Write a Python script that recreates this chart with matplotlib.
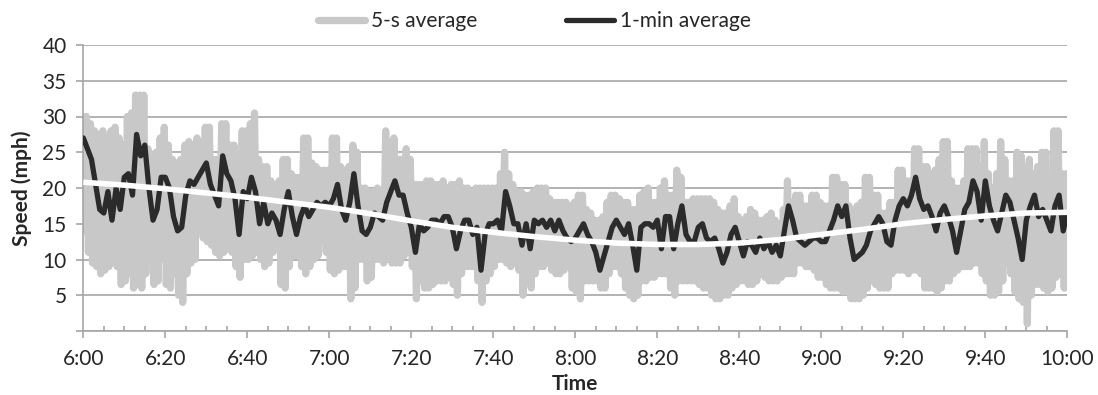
import matplotlib.pyplot as plt
import numpy as np

plt.rcParams["font.family"] = ["Lato", "DejaVu Sans"]

# x axis labels (every 20 min from 6:00) and y tick values
time_labels = ["6:00", "6:20", "6:40", "7:00", "7:20", "7:40", "8:00",
               "8:20", "8:40", "9:00", "9:20", "9:40", "10:00"]
speed_ticks = [0, 5, 10, 15, 20, 25, 30, 35, 40]

# 1-min average speed, one value per minute 6:00..10:00
minute_avg = [
    27.0, 25.5, 24.0, 20.5, 17.0, 16.5, 19.5, 15.5, 20.0, 17.0, 21.5, 22.0, 19.0, 27.5,
    24.5, 26.0, 20.0, 15.5, 17.0, 21.5, 21.5, 20.0, 16.0, 14.0, 14.5, 19.0, 21.0, 20.5,
    21.5, 22.5, 23.5, 20.5, 19.0, 17.5, 24.5, 22.0, 21.0, 18.5, 13.5, 19.5, 18.5, 21.5,
    19.5, 15.0, 18.0, 15.0, 16.5, 15.5, 13.5, 17.0, 19.5, 16.0, 13.5, 16.0, 17.5, 16.0,
    17.0, 18.0,
    17.5, 18.0, 17.5, 18.5, 20.5, 17.0, 15.5, 18.0, 22.0, 17.5, 14.0, 13.5, 14.5, 16.5,
    16.0, 15.5, 18.0, 19.5, 21.0, 19.0, 19.0, 16.5, 14.5, 11.0, 15.0, 14.0, 14.5, 15.5,
    15.5, 15.0, 16.0,
    16.0, 14.5, 11.5, 14.0, 15.5, 15.5, 13.5, 14.5, 8.5, 13.5, 15.0, 15.0, 15.5, 14.0,
    19.5, 17.5, 15.0, 15.0, 12.0, 15.0, 11.5, 15.5, 15.0, 15.5, 14.5, 15.5, 14.0, 15.5,
    14.0, 13.0,
    12.5, 13.0, 14.0, 15.0, 13.5, 12.5, 11.0, 8.5, 10.5, 12.5, 14.5, 15.5, 14.5, 13.5,
    15.0, 12.0, 8.5, 14.5, 15.0, 15.0, 14.5, 15.5, 11.5, 16.0, 16.0, 11.5, 15.0, 17.5,
    13.5, 12.5,
    12.5, 14.5, 15.0, 13.0, 12.5, 13.0, 11.5, 9.5, 11.0, 13.5, 14.5, 12.5, 10.5, 12.5,
    12.0, 11.0, 13.0, 11.5, 12.5, 11.0, 12.0, 10.5, 14.0, 17.5, 15.5, 13.0, 12.5, 12.0,
    12.5, 13.0,
    13.0, 12.5, 12.5, 14.0, 15.5, 17.5, 16.0, 17.5, 13.0, 10.0, 10.5, 11.0, 12.0, 14.0,
    15.0, 16.0, 15.0, 12.5, 12.0, 15.5, 17.5, 18.5, 17.5, 19.0, 21.5, 18.5, 17.0, 17.5,
    16.0, 14.0, 16.5, 17.5,
    16.0, 14.0, 11.0, 14.0, 17.0, 18.0, 21.0, 19.5, 15.5, 21.0, 17.5, 15.5, 14.0, 16.5,
    19.0, 18.0, 15.5, 13.0, 10.0, 15.5, 17.5, 19.0, 16.0, 17.0, 15.5, 14.0, 17.5, 19.0,
    14.0, 16.5,
]

# 5-s average: highest and lowest reading inside each minute
fast_hi = [
    30, 30, 29, 28, 27.5, 28, 27, 28, 28.5, 27, 26, 30, 30.5, 33, 33, 33, 25.5, 24, 25,
    27, 28.5, 26, 24, 23.5, 24, 26, 26.5, 26,
    27, 26.5, 28.5, 28.5, 24, 24, 29, 29, 26, 26, 24, 28, 28, 29, 30.5, 24, 23, 23, 21,
    20.5, 21, 24, 24, 22, 21.5, 21.5, 27, 27, 23.5, 23,
    22.5, 22.5, 22.5, 27, 27, 23, 22.5, 23, 26, 25, 20, 20, 19.5, 19.5, 20, 19.5, 28,
    26.5, 27, 24, 24, 25.5, 24, 20.5, 20.5, 20.5, 21, 21, 20.5, 20.5, 21,
    20, 20.5, 20.5, 21, 20, 20, 19.5, 20, 20, 20, 20, 20, 20, 22, 25, 22, 20.5, 19.5,
    19.5, 19, 19, 19.5, 20, 20, 20, 18.5, 18, 18, 18, 18,
    17.5, 18, 19, 19, 17, 16.5, 15.5, 15.5, 16, 18, 19, 19, 18.5, 18, 18, 17, 17, 19,
    19.5, 20, 18, 18, 20, 21, 19, 19, 22.5, 21.5, 18, 18,
    18.5, 18.5, 18.5, 18.5, 18.5, 18, 17, 16.5, 16.5, 17.5, 18.5, 16, 15.5, 16, 17,
    16.5, 15.5, 15.5, 16, 16.5, 15.5, 15, 17, 21, 18, 19, 19, 17.5, 17.5, 19,
    19, 18, 17.5, 17.5, 21.5, 21.5, 20.5, 20.5, 17.5, 16.5, 17.5, 18, 21.5, 21.5, 19,
    19, 16.5, 16.5, 18, 18, 22.5, 22.5, 21, 21, 25.5, 25.5, 23, 23, 22, 22.5, 24, 26.5,
    26.5, 21, 20, 20, 21, 25.5, 25.5, 25.5, 23, 26.5, 22, 20, 22, 26.5, 24, 21, 21, 25,
    24.5, 23, 24, 22, 23, 25, 25, 20, 28, 28, 22, 22,
]
fast_lo = [
    14, 11, 9.5, 9, 8, 8.5, 9, 10, 9, 6.5, 7, 8, 6, 6.5, 6, 8, 10, 6.5, 7, 10, 6.5, 6,
    8, 5, 4, 8, 9.5, 10,
    14, 13, 12.5, 12, 11, 10.5, 11, 11.5, 11, 9, 7.5, 10, 10, 10.5, 11, 10, 9, 9.5, 11,
    11.5, 6.5, 6, 9, 10.5, 10.5, 9, 8, 9, 10, 10.5,
    12.5, 11, 8.5, 8, 8.5, 9, 9, 4.5, 6, 10, 10, 7, 7.5, 10, 10, 9.5, 10, 9.5, 9.5, 9.5,
    10.5, 11, 9, 4.5, 7, 6, 6, 6.5, 7, 7, 7,
    7.5, 6.5, 5, 8, 9, 9, 9, 7, 4, 7, 8, 9, 10, 10, 9.5, 9, 9.5, 8.5, 5, 7, 6, 8, 9, 9,
    9.5, 8.5, 8, 8, 8.5, 9,
    6, 5.5, 4.5, 7, 7, 7, 7, 6, 6, 8, 9, 9, 8, 6, 5, 4.5, 5, 7, 7, 7.5, 7.5, 8, 8, 8, 6,
    5, 7, 7, 7, 7,
    7, 6.5, 6, 6, 5, 4.5, 4.5, 5, 5, 6, 6.5, 7, 7, 6.5, 6.5, 7, 8, 7.5, 7, 7, 7, 7.5, 8,
    8, 8, 9.5, 9.5, 9, 9, 8.5,
    7.5, 7.5, 6.5, 6, 6, 6, 5.5, 5.5, 4.5, 4.5, 4.5, 5, 6, 7, 6.5, 6, 6, 6, 8, 8.5, 8.5,
    8.5, 8, 8.5, 8.5, 8, 6, 6, 6, 5.5, 6, 7,
    7, 8, 8.5, 9, 9, 9, 9.5, 9.5, 8, 7, 5, 5, 5.5, 7, 9.5, 8, 5.5, 4.5, 4, 1, 5, 6.5,
    6.5, 6, 5.5, 6, 7.5, 8, 6, 6,
]

# smooth trend (white), one value every 10 min
trend_minutes = [0, 10, 20, 30, 40, 50, 60, 70, 80, 90, 100, 110, 120,
                 130, 140, 150, 160, 170, 180, 190, 200, 210, 220, 230, 240]
trend = [20.8, 20.4, 19.9, 19.3, 18.7, 18.0, 17.3, 16.4, 15.4, 14.5, 13.8, 13.2, 12.7,
         12.3, 12.1, 12.1, 12.3, 12.8, 13.5, 14.2, 15.0, 15.6, 16.1, 16.5, 16.6]

GRID = "#a6a6a6"
TEXT = "#262626"
W, H = 1098, 395

minutes = np.arange(len(minute_avg))
fast_t = np.column_stack([minutes - 0.25, minutes + 0.25]).ravel()
fast_v = np.column_stack([fast_hi, fast_lo]).ravel()

fig = plt.figure(figsize=(W / 100, H / 100), dpi=100)
ax = fig.add_axes([83.3 / W, 1 - 331 / H, (1067.3 - 83.3) / W, (331 - 45) / H])

ax.plot(fast_t, fast_v, color="#c8c8c8", lw=5.2, solid_joinstyle="round",
        solid_capstyle="round", label="5-s average", zorder=2)
ax.plot(minutes, minute_avg, color="#2b2b2b", lw=3.8, solid_joinstyle="round",
        solid_capstyle="round", label="1-min average", zorder=3)
ax.plot(trend_minutes, trend, color="white", lw=4.0, solid_capstyle="butt", zorder=4)

ax.set_xlim(0, 240)
ax.set_ylim(0, 40)
ax.set_xticks(range(0, 241, 20))
ax.set_xticklabels(time_labels)
ax.set_xticks(range(0, 241, 5), minor=True)
ax.set_yticks(speed_ticks)
ax.set_yticklabels([""] + [str(v) for v in speed_ticks[1:]])

ax.tick_params(axis="x", which="major", direction="out", length=5, width=1.2,
               color=GRID, pad=8, labelsize=15, labelcolor=TEXT)
ax.tick_params(axis="x", which="minor", direction="in", length=3.6, width=1.2, color=GRID)
ax.tick_params(axis="y", direction="out", length=5, width=1.2, color=GRID, pad=7,
               labelsize=15, labelcolor=TEXT)

ax.grid(axis="y", color=GRID, lw=1.2)
ax.set_axisbelow(True)
for side in ["top", "right"]:
    ax.spines[side].set_visible(False)
for side in ["left", "bottom"]:
    ax.spines[side].set_color(GRID)
    ax.spines[side].set_linewidth(1.2)

fig.text(22 / W, 1 - 188 / H, "Speed (mph)", rotation=90, ha="center", va="center",
         fontsize=15, fontweight="bold", color=TEXT)
fig.text(575 / W, 1 - 384 / H, "Time", ha="center", va="center",
         fontsize=15, fontweight="bold", color=TEXT)

handles, labels = ax.get_legend_handles_labels()
fig.legend(handles, labels, loc="center", bbox_to_anchor=(534 / W, 1 - 21 / H), ncol=2,
           frameon=False, fontsize=15, handlelength=2.3, handletextpad=0.25,
           columnspacing=4.3, labelcolor=TEXT)

fig.savefig("out.png", dpi=100)
